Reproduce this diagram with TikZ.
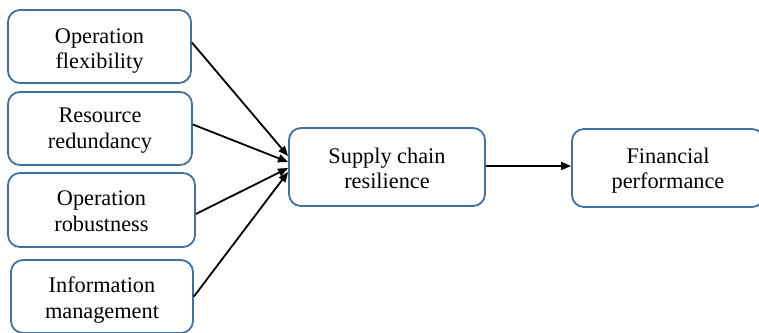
\documentclass[tikz,border=0pt]{standalone}
\usepackage{fontspec}
\setmainfont{Liberation Serif}
\usetikzlibrary{arrows.meta,calc}
\definecolor{boxblue}{RGB}{65,113,156}
\begin{document}
\begin{tikzpicture}[x=1pt,y=-1pt,
  box/.style={draw=boxblue,line width=1.8pt,rounded corners=12pt,fill=white,inner sep=0pt},
  txt/.style={align=center,inner sep=0pt,font=\fontsize{22.3}{25.5}\selectfont},
  conn/.style={line width=1.8pt,-{Triangle[length=10pt,width=8pt]}}]
\useasboundingbox (0,0) rectangle (759,332);
\clip (0,0) rectangle (759,332);
\node[box,minimum width=183pt,minimum height=73pt] (b1) at (99.5,46.5) {};
\node[box,minimum width=184pt,minimum height=73pt] (b2) at (100,128.5) {};
\node[box,minimum width=187pt,minimum height=74pt] (b3) at (101.5,210) {};
\node[box,minimum width=182pt,minimum height=73pt] (b4) at (102,296.5) {};
\node[box,minimum width=196pt,minimum height=78pt] (sc) at (387,167) {};
\node[box,minimum width=192pt,minimum height=78pt] (fp) at (668,168) {};
\node[txt] (t1) at ($(b1)+(0,4.5)$) {Operation\\flexibility};
\node[txt] (t2) at ($(b2)+(0,2)$) {Resource\\redundancy};
\node[txt] (t3) at ($(b3)+(0,1)$) {Operation\\robustness};
\node[txt] (t4) at ($(b4)+(0,3.5)$) {Information\\management};
\node[txt] (t5) at ($(sc)+(0,1.5)$) {Supply chain\\resilience};
\node[txt] (t6) at ($(fp)+(0,2.5)$) {Financial\\performance};
\draw[conn] ($(b1.east)+(0,-4)$) -- ($(sc.west)+(0,-11)$);
\draw[conn] ($(b2.east)+(0,-4)$) -- ($(sc.west)+(0,-5)$);
\draw[conn] ($(b3.east)+(0,4)$) -- ($(sc.west)+(0,1)$);
\draw[conn] (b4.east) -- ($(sc.west)+(0,5)$);
\draw[conn] ($(sc.east)+(0,-1)$) -- ($(fp.west)+(0,-2)$);
\end{tikzpicture}
\end{document}
